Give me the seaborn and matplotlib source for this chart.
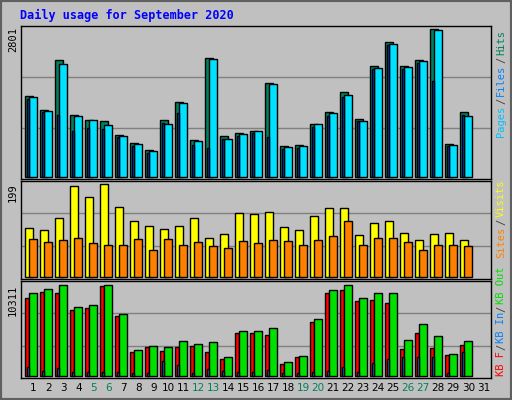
import numpy as np
import pandas as pd
import matplotlib
matplotlib.use("Agg")
import matplotlib.pyplot as plt
import seaborn as sns
from matplotlib.patches import Rectangle

days = list(range(1, 31))
hits = [1534,1267,2218,1172,1077,1058,792,640,507,1077,1419,697,2256,773,830,868,1781,583,602,1001,1229,1610,1096,2104,2560,2104,2218,2801,621,1229]
files = [1508,1248,2142,1147,1077,982,767,621,488,1001,1400,678,2237,716,811,868,1762,564,583,1001,1210,1553,1058,2066,2522,2085,2199,2788,602,1153]
pages = [1477,1229,1172,868,925,906,754,583,450,1020,1210,602,545,716,773,830,754,526,545,944,1153,1515,1058,2047,2503,2047,2161,1819,583,1172]
visits = [104,100,127,194,170,199,149,119,108,102,108,125,84,91,136,134,138,106,100,130,147,147,89,115,119,93,78,91,93,78]
sites = [80,74,78,82,72,69,67,80,57,80,69,74,65,61,76,72,78,76,69,78,87,119,67,82,82,74,57,69,69,65]
kb_f = [8768,9445,9332,7413,7639,10122,6736,2672,3236,2785,3236,3349,2672,1882,4817,4817,4591,1317,2107,6058,9332,9671,8429,8542,8203,3010,4817,3123,2333,3462]
kb_out = [9332,9784,10235,7752,7978,10250,6962,2898,3349,3236,3914,3575,3801,2107,5042,5042,5381,1543,2220,6397,9671,10311,8768,9332,9332,4026,5833,4478,2446,3914]
kb_in = [978,527,865,414,414,414,414,301,301,1656,1204,301,753,527,414,414,640,301,301,414,527,978,414,1430,1882,2107,2107,2107,301,2672]
day_labels = [str(d) for d in range(1, 32)]
weekends = [5, 6, 12, 13, 19, 20, 26, 27]
title = "Daily usage for September 2020"

W, H = 512, 400
sns.set_theme(style="white")
plt.rcParams['font.family'] = ['DejaVu Sans']
fig = plt.figure(figsize=(W/100, H/100), dpi=100)
fig.patch.set_facecolor("#C0C0C0")
fig.add_artist(Rectangle((0, 0), 1, 1, transform=fig.transFigure, fill=False, edgecolor="#606060", lw=3))

def ax_px(x0, y0, x1, y1):
    return fig.add_axes([x0/W, 1-y1/H, (x1-x0)/W, (y1-y0)/H])

XL = (0.16, 31.49)
def bars(ax, vals, off, w, color):
    x = np.array(days, dtype=float) + off
    sns.barplot(x=x, y=vals, native_scale=True, width=w, color=color,
                edgecolor="black", linewidth=1, errorbar=None, ax=ax, saturation=1)

def setup(ax, ylim):
    ax.set_facecolor("#C0C0C0")
    ax.set_xlim(*XL); ax.set_ylim(*ylim)
    for f in (1/3, 2/3):
        ax.axhline(ylim[0] + f*(ylim[1]-ylim[0]), color="#808080", lw=1, zorder=0)
    ax.set_xticks([]); ax.set_yticks([])
    ax.set_xlabel(""); ax.set_ylabel("")
    for s in ax.spines.values():
        s.set_color("black"); s.set_linewidth(1)

ax1 = ax_px(20.7, 25.7, 490.7, 178.7)
for vals, off, w, c in [(hits, -0.27, 0.53, "#00805C"), (files, -0.03, 0.51, "#00E0FF"), (pages, -0.36, 0.12, "#0040FF")]:
    bars(ax1, vals, off, w, c)
setup(ax1, (-38, 2869))

ax2 = ax_px(20.7, 180.7, 490.7, 278.7)
for vals, off, w, c in [(visits, -0.27, 0.53, "#FFFF00"), (sites, -0.03, 0.5, "#FF8000")]:
    bars(ax2, vals, off, w, c)
setup(ax2, (-4.3, 206))

ax3 = ax_px(20.7, 280.7, 490.7, 378)
for vals, off, w, c in [(kb_f, -0.4, 0.27, "#FF0000"), (kb_out, -0.02, 0.5, "#00E000"), (kb_in, -0.35, 0.12, "#0080FF")]:
    bars(ax3, vals, off, w, c)
setup(ax3, (-226, 10763))

fig.text(20/W, 1-15/H, title, color="#0000FF", fontsize=8.5, fontweight="bold",
         family="DejaVu Sans Mono", va="center", ha="left")
for txt, y in [("2801", 40), ("199", 193), ("10311", 300)]:
    fig.text(13/W, 1-y/H, txt, rotation=90, fontsize=7.5, family="DejaVu Sans Mono",
             color="black", va="center", ha="center")

for i, lab in enumerate(day_labels):
    d = i + 1
    fig.text((33.3 + (d-1)*15)/W, 1-388/H, lab, fontsize=7.5, ha="center", va="center",
             color="#00805C" if d in weekends else "black")

def right_label(parts, y_bottom, step):
    y = y_bottom
    for t, c in parts:
        fig.text(501/W, 1-y/H, t, rotation=90, fontsize=7.5, family="DejaVu Sans Mono",
                 color=c, ha="center", va="bottom")
        y -= len(t) * step + 1.5
right_label([("Pages", "#00C0FF"), ("/", "#404040"), ("Files", "#0080FF"), ("/", "#404040"), ("Hits", "#00805C")], 137, 6.3)
right_label([("Sites", "#FF8000"), ("/", "#404040"), ("Visits", "#FFFF00")], 258, 6.3)
right_label([("KB F", "#FF0000"), ("/", "#404040"), ("KB In", "#0080FF"), ("/", "#404040"), ("KB Out", "#00E000")], 376, 6.0)

fig.savefig("out.png", dpi=100, facecolor=fig.get_facecolor())
